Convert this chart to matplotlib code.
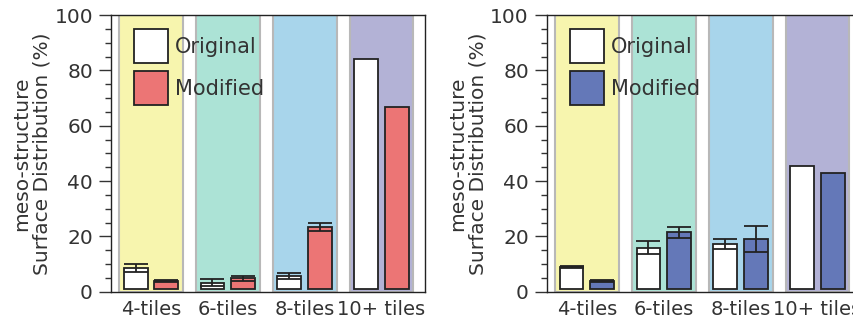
import matplotlib
matplotlib.use("Agg")
import matplotlib.pyplot as plt
import matplotlib.patches as mpatches
from matplotlib.legend_handler import HandlerBase
import numpy as np

categories = ["4-tiles", "6-tiles", "8-tiles", "10+ tiles"]

left_original = [8.7, 3.3, 5.6, 84.1]
left_original_err = [1.5, 1.4, 1.0, 0.0]
left_modified = [3.9, 4.8, 23.4, 66.7]
left_modified_err = [0.4, 0.9, 1.3, 0.0]

right_original = [8.8, 15.9, 17.1, 45.6]
right_original_err = [0.4, 2.4, 1.8, 0.0]
right_modified = [4.0, 21.5, 19.0, 43.1]
right_modified_err = [0.4, 1.9, 4.6, 0.0]

band_colors = ["#f7f5ae", "#ace3d6", "#a8d5eb", "#b3b2d6"]
modified_left_color = "#ec7575"
modified_right_color = "#6478b8"

TEXT = "#333333"
EDGE = "#222222"
plt.rcParams['font.family'] = ['DejaVu Sans']
plt.rcParams['text.color'] = TEXT
plt.rcParams['axes.labelcolor'] = TEXT
plt.rcParams['xtick.color'] = TEXT
plt.rcParams['ytick.color'] = TEXT

fig = plt.figure(figsize=(8.54, 3.22), dpi=100)

BASE = 1.0
BW = 0.31
OFF = 0.2
FS = 14.5


class SquareHandler(HandlerBase):
    def create_artists(self, legend, orig_handle, xdescent, ydescent,
                       width, height, fontsize, trans):
        side = width
        cy = -ydescent + height / 2.0
        r = mpatches.Rectangle((-xdescent, cy - side / 2.0), side, side,
                               facecolor=orig_handle.get_facecolor(),
                               edgecolor=orig_handle.get_edgecolor(),
                               linewidth=orig_handle.get_linewidth(),
                               transform=trans)
        return [r]


def panel(ax, orig, orig_err, mod, mod_err, mcolor):
    x = np.arange(len(categories))
    for i, c in enumerate(band_colors):
        ax.axvspan(i - 0.415, i + 0.415, ymin=0, ymax=1, facecolor=c,
                   edgecolor="#b8b8b8", linewidth=1.5, zorder=0)
    o = np.array(orig)
    m = np.array(mod)
    b1 = ax.bar(x - OFF, o - BASE, bottom=BASE, width=BW, color="white",
                edgecolor=EDGE, linewidth=1.3, zorder=2, label="Original")
    b2 = ax.bar(x + OFF, m - BASE, bottom=BASE, width=BW, color=mcolor,
                edgecolor=EDGE, linewidth=1.3, zorder=2, label="Modified")
    for xs, vals, errs in ((x - OFF, o, orig_err), (x + OFF, m, mod_err)):
        for xi, v, e in zip(xs, vals, errs):
            if e > 0:
                ax.errorbar(xi, v, yerr=e, fmt="none", ecolor=EDGE,
                            elinewidth=1.3, capsize=8.5, capthick=1.3, zorder=3)
    ax.set_xlim(-0.52, 3.57)
    ax.set_ylim(0, 100)
    ax.set_yticks(np.arange(0, 101, 20))
    ax.set_yticks(np.arange(0, 101, 5), minor=True)
    ax.tick_params(axis="y", which="major", length=9, width=1, labelsize=FS, pad=4,
                   direction="out")
    ax.tick_params(axis="y", which="minor", length=4.5, width=1, direction="out")
    ax.set_xticks(x)
    ax.set_xticklabels(categories)
    ax.tick_params(axis="x", length=0, labelsize=14, pad=6)
    for s in ax.spines.values():
        s.set_color(EDGE)
        s.set_linewidth(1.0)
    ax.set_ylabel("meso-structure\nSurface Distribution (%)", fontsize=FS,
                  labelpad=2, linespacing=1.1)
    h1 = b1.patches[0]
    h2 = b2.patches[0]
    ax.legend(handles=[h1, h2], labels=["Original", "Modified"],
              handler_map={mpatches.Rectangle: SquareHandler()},
              loc="upper left", bbox_to_anchor=(0.073, 0.921),
              frameon=False, fontsize=15, handlelength=1.63,
              labelspacing=1.05, handletextpad=0.34, borderpad=0, borderaxespad=0)


ax1 = fig.add_axes([0.130, 0.094, 0.368, 0.859])
panel(ax1, left_original, left_original_err, left_modified, left_modified_err,
      modified_left_color)
ax2 = fig.add_axes([0.6405, 0.094, 0.368, 0.859])
panel(ax2, right_original, right_original_err, right_modified, right_modified_err,
      modified_right_color)

fig.savefig("out.png", dpi=100)
